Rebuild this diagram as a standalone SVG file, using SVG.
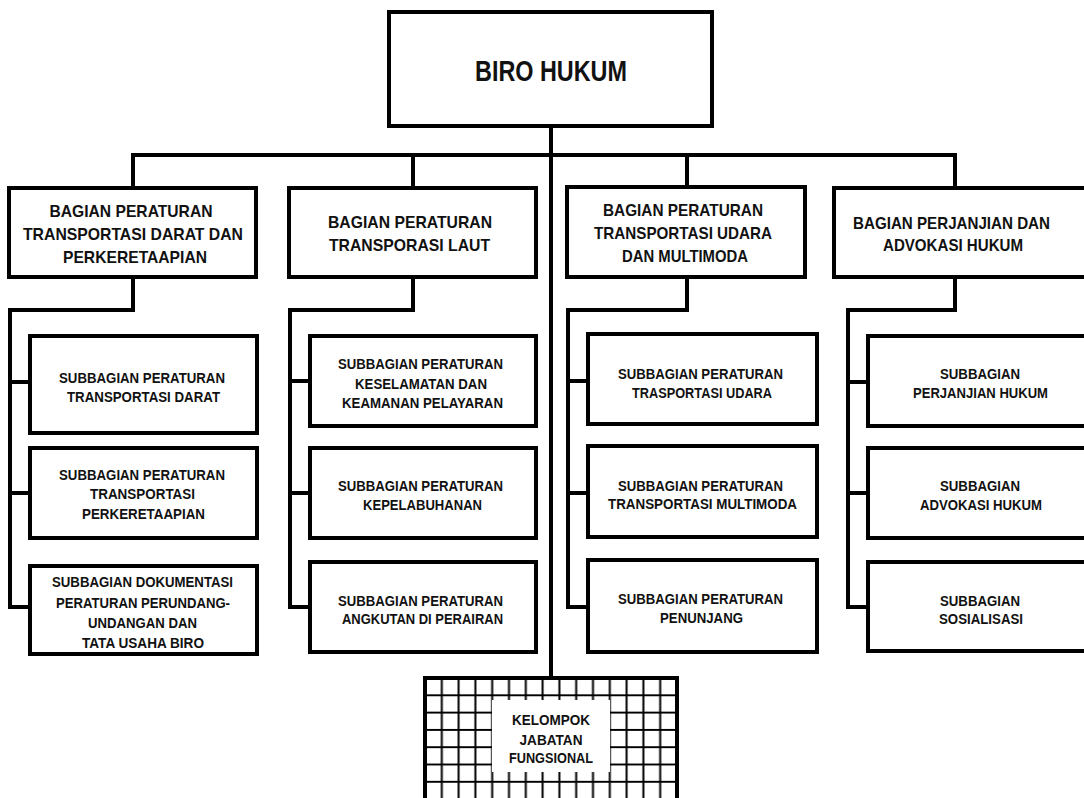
<svg xmlns="http://www.w3.org/2000/svg" width="1084" height="798" viewBox="0 0 1084 798">
<style>
.box{fill:#fff;stroke:#000;stroke-width:4}
.con{fill:none;stroke:#000;stroke-width:4;stroke-linejoin:miter}
text{font-family:"Liberation Sans",Arial,sans-serif;font-weight:bold;fill:#111;text-anchor:middle}
.t0{font-size:29px}
.t1{font-size:17px}
.t2{font-size:14.5px}
.t3{font-size:14px}
</style>
<defs>
<pattern id="grid" patternUnits="userSpaceOnUse" x="416.6" y="669.35" width="16.8" height="17.3">
<rect width="16.8" height="17.3" fill="#fff"/>
<path d="M8.4 0V17.3M0 8.65H16.8" stroke="#000" stroke-width="2" fill="none"/>
</pattern>
</defs>
<g id="connectors">
<path class="con" d="M551 126V678"/>
<path class="con" d="M133 188V155H955V188"/>
<path class="con" d="M413 155V188M687 155V188"/>
<path class="con" d="M133 277V310H10V607H30M10 382H30M10 493H30"/>
<path class="con" d="M413 277V310H290V607H310M290 381H310M290 493H310"/>
<path class="con" d="M687 277V310H568V607H588M568 381H588M568 493H588"/>
<path class="con" d="M955 277V310H848V607H868M848 382H868M848 493H868"/>
</g>
<g id="biro-hukum">
<rect class="box" x="389" y="12" width="323" height="114"/>
<text class="t0" x="551" y="81" textLength="152" lengthAdjust="spacingAndGlyphs">BIRO HUKUM</text>
</g>
<g id="bagian-darat">
<rect class="box" x="9" y="188" width="247" height="89"/>
<text class="t1" x="131" y="217" textLength="163" lengthAdjust="spacingAndGlyphs">BAGIAN PERATURAN</text>
<text class="t1" x="133" y="240" textLength="220" lengthAdjust="spacingAndGlyphs">TRANSPORTASI DARAT DAN</text>
<text class="t1" x="135" y="263" textLength="144" lengthAdjust="spacingAndGlyphs">PERKERETAAPIAN</text>
</g>
<g id="bagian-laut">
<rect class="box" x="289" y="188" width="247" height="89"/>
<text class="t1" x="410" y="228" textLength="164" lengthAdjust="spacingAndGlyphs">BAGIAN PERATURAN</text>
<text class="t1" x="409.5" y="251" textLength="161" lengthAdjust="spacingAndGlyphs">TRANSPORASI LAUT</text>
</g>
<g id="bagian-udara">
<rect class="box" x="567" y="187" width="238" height="90"/>
<text class="t1" x="683" y="216" textLength="160" lengthAdjust="spacingAndGlyphs">BAGIAN PERATURAN</text>
<text class="t1" x="683" y="239" textLength="178" lengthAdjust="spacingAndGlyphs">TRANSPORTASI UDARA</text>
<text class="t1" x="685" y="262" textLength="126" lengthAdjust="spacingAndGlyphs">DAN MULTIMODA</text>
</g>
<g id="bagian-perjanjian">
<rect class="box" x="834" y="188" width="260" height="89"/>
<text class="t1" x="951.5" y="229" textLength="197" lengthAdjust="spacingAndGlyphs">BAGIAN PERJANJIAN DAN</text>
<text class="t1" x="953" y="251" textLength="140" lengthAdjust="spacingAndGlyphs">ADVOKASI HUKUM</text>
</g>
<g id="sub-darat">
<rect class="box" x="30" y="336" width="227" height="97"/>
<text class="t2" x="142" y="382.5" textLength="166" lengthAdjust="spacingAndGlyphs">SUBBAGIAN PERATURAN</text>
<text class="t2" x="143.5" y="401.5" textLength="153" lengthAdjust="spacingAndGlyphs">TRANSPORTASI DARAT</text>
</g>
<g id="sub-perkeretaapian">
<rect class="box" x="30" y="448" width="227" height="90"/>
<text class="t2" x="142" y="479.5" textLength="166" lengthAdjust="spacingAndGlyphs">SUBBAGIAN PERATURAN</text>
<text class="t2" x="142.5" y="498.5" textLength="105" lengthAdjust="spacingAndGlyphs">TRANSPORTASI</text>
<text class="t2" x="143.5" y="518.5" textLength="123" lengthAdjust="spacingAndGlyphs">PERKERETAAPIAN</text>
</g>
<g id="sub-dokumentasi">
<rect class="box" x="30" y="566" width="227" height="88"/>
<text class="t2" x="142.5" y="587" textLength="181" lengthAdjust="spacingAndGlyphs">SUBBAGIAN DOKUMENTASI</text>
<text class="t2" x="143" y="607.5" textLength="174" lengthAdjust="spacingAndGlyphs">PERATURAN PERUNDANG-</text>
<text class="t2" x="142.5" y="628" textLength="109" lengthAdjust="spacingAndGlyphs">UNDANGAN DAN</text>
<text class="t2" x="143" y="648" textLength="122" lengthAdjust="spacingAndGlyphs">TATA USAHA BIRO</text>
</g>
<g id="sub-keselamatan">
<rect class="box" x="310" y="336" width="226" height="90"/>
<text class="t2" x="420.5" y="368.5" textLength="165" lengthAdjust="spacingAndGlyphs">SUBBAGIAN PERATURAN</text>
<text class="t2" x="421" y="388.5" textLength="132" lengthAdjust="spacingAndGlyphs">KESELAMATAN DAN</text>
<text class="t2" x="422.5" y="407.5" textLength="161" lengthAdjust="spacingAndGlyphs">KEAMANAN PELAYARAN</text>
</g>
<g id="sub-kepelabuhanan">
<rect class="box" x="310" y="448" width="226" height="90"/>
<text class="t2" x="420.5" y="490.5" textLength="165" lengthAdjust="spacingAndGlyphs">SUBBAGIAN PERATURAN</text>
<text class="t2" x="422.5" y="509.5" textLength="119" lengthAdjust="spacingAndGlyphs">KEPELABUHANAN</text>
</g>
<g id="sub-angkutan">
<rect class="box" x="310" y="562" width="226" height="90"/>
<text class="t2" x="420.5" y="605.5" textLength="165" lengthAdjust="spacingAndGlyphs">SUBBAGIAN PERATURAN</text>
<text class="t2" x="422.5" y="623.5" textLength="161" lengthAdjust="spacingAndGlyphs">ANGKUTAN DI PERAIRAN</text>
</g>
<g id="sub-udara">
<rect class="box" x="588" y="334" width="229" height="90"/>
<text class="t2" x="700.5" y="378.5" textLength="165" lengthAdjust="spacingAndGlyphs">SUBBAGIAN PERATURAN</text>
<text class="t2" x="702" y="397.5" textLength="140" lengthAdjust="spacingAndGlyphs">TRASPORTASI UDARA</text>
</g>
<g id="sub-multimoda">
<rect class="box" x="588" y="446" width="229" height="91"/>
<text class="t2" x="700.5" y="490.5" textLength="165" lengthAdjust="spacingAndGlyphs">SUBBAGIAN PERATURAN</text>
<text class="t2" x="702.5" y="508.5" textLength="189" lengthAdjust="spacingAndGlyphs">TRANSPORTASI MULTIMODA</text>
</g>
<g id="sub-penunjang">
<rect class="box" x="588" y="560" width="229" height="92"/>
<text class="t2" x="700.5" y="603.5" textLength="165" lengthAdjust="spacingAndGlyphs">SUBBAGIAN PERATURAN</text>
<text class="t2" x="701.5" y="622.5" textLength="83" lengthAdjust="spacingAndGlyphs">PENUNJANG</text>
</g>
<g id="sub-perjanjian">
<rect class="box" x="868" y="336" width="226" height="90"/>
<text class="t2" x="980" y="378.5" textLength="80" lengthAdjust="spacingAndGlyphs">SUBBAGIAN</text>
<text class="t2" x="980.5" y="397.5" textLength="135" lengthAdjust="spacingAndGlyphs">PERJANJIAN HUKUM</text>
</g>
<g id="sub-advokasi">
<rect class="box" x="868" y="448" width="226" height="90"/>
<text class="t2" x="980" y="490.5" textLength="80" lengthAdjust="spacingAndGlyphs">SUBBAGIAN</text>
<text class="t2" x="981" y="509.5" textLength="122" lengthAdjust="spacingAndGlyphs">ADVOKASI HUKUM</text>
</g>
<g id="sub-sosialisasi">
<rect class="box" x="868" y="562" width="226" height="89"/>
<text class="t2" x="980" y="605.5" textLength="80" lengthAdjust="spacingAndGlyphs">SUBBAGIAN</text>
<text class="t2" x="981" y="623.5" textLength="84" lengthAdjust="spacingAndGlyphs">SOSIALISASI</text>
</g>
<g id="kelompok-jabatan-fungsional">
<rect x="425" y="678" width="252" height="140" fill="url(#grid)" stroke="#000" stroke-width="4"/>
<rect x="492" y="700" width="118" height="72" fill="#fff"/>
<text class="t3" x="551" y="725" textLength="78" lengthAdjust="spacingAndGlyphs">KELOMPOK</text>
<text class="t3" x="551" y="745" textLength="63" lengthAdjust="spacingAndGlyphs">JABATAN</text>
<text class="t3" x="551" y="763" textLength="84" lengthAdjust="spacingAndGlyphs">FUNGSIONAL</text>
</g>
</svg>
